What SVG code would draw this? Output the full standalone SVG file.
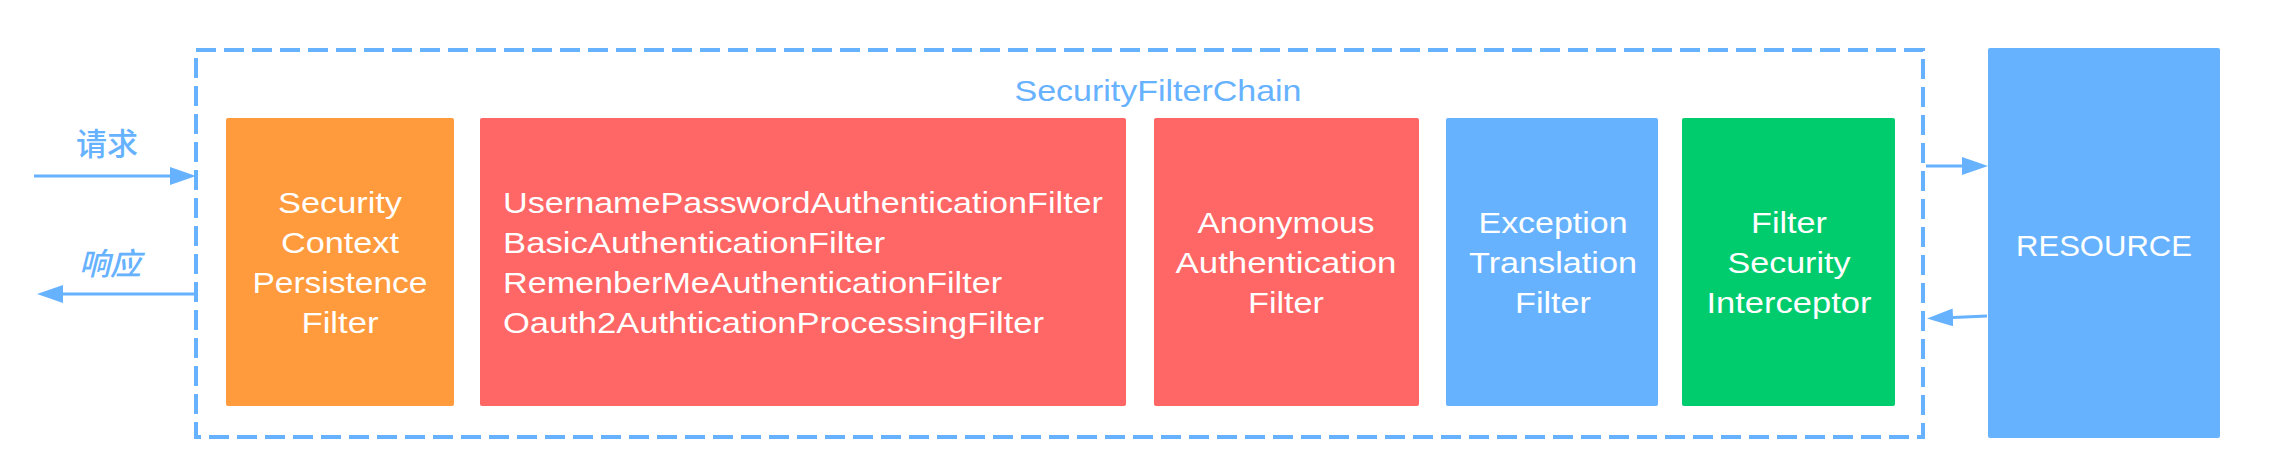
<svg xmlns="http://www.w3.org/2000/svg" width="2276" height="468" viewBox="0 0 2276 468">
<style>
.box{stroke:none}
.orange{fill:#FF9A3D}
.red{fill:#FF6666}
.blue{fill:#66B2FF}
.green{fill:#00CC6E}
.t{font-family:"Liberation Sans",Arial,sans-serif;font-size:30px;fill:#FFFFFF;text-anchor:middle}
.tl{font-family:"Liberation Sans",Arial,sans-serif;font-size:30px;fill:#FFFFFF;text-anchor:start}
.title{font-family:"Liberation Sans",Arial,sans-serif;font-size:30px;fill:#66B2FF;text-anchor:middle}
.cjk{font-family:"Liberation Sans","Noto Sans CJK SC",sans-serif;font-size:31px;fill:#66B2FF;text-anchor:middle;font-weight:500}
.conn{stroke:#66B2FF;stroke-width:3;fill:none}
.chain{stroke:#66B2FF;stroke-width:4;fill:none;stroke-dasharray:20 8}
</style>
<defs>
<marker id="ah" markerUnits="userSpaceOnUse" markerWidth="26" markerHeight="18" refX="0" refY="9" orient="auto" viewBox="0 0 26 18">
<path d="M0,0 L26,9 L0,18 z" fill="#66B2FF"/>
</marker>
</defs>
<g id="chain">
<rect class="chain" x="196" y="50" width="1727" height="387"/>
<text class="title" x="1158" y="101" textLength="287" lengthAdjust="spacingAndGlyphs">SecurityFilterChain</text>
</g>
<g id="scpf">
<rect class="box orange" x="226" y="118" width="228" height="288" rx="2"/>
<text class="t" x="340" y="213" textLength="124" lengthAdjust="spacingAndGlyphs">Security</text>
<text class="t" x="340" y="253" textLength="118" lengthAdjust="spacingAndGlyphs">Context</text>
<text class="t" x="340" y="293" textLength="175" lengthAdjust="spacingAndGlyphs">Persistence</text>
<text class="t" x="340" y="333" textLength="77" lengthAdjust="spacingAndGlyphs">Filter</text>
</g>
<g id="authfilters">
<rect class="box red" x="480" y="118" width="646" height="288" rx="2"/>
<text class="tl" x="503" y="213" textLength="600" lengthAdjust="spacingAndGlyphs">UsernamePasswordAuthenticationFilter</text>
<text class="tl" x="503" y="253" textLength="382" lengthAdjust="spacingAndGlyphs">BasicAuthenticationFilter</text>
<text class="tl" x="503" y="293" textLength="499" lengthAdjust="spacingAndGlyphs">RemenberMeAuthenticationFilter</text>
<text class="tl" x="503" y="333" textLength="541" lengthAdjust="spacingAndGlyphs">Oauth2AuthticationProcessingFilter</text>
</g>
<g id="anonymous">
<rect class="box red" x="1154" y="118" width="265" height="288" rx="2"/>
<text class="t" x="1286" y="233" textLength="177" lengthAdjust="spacingAndGlyphs">Anonymous</text>
<text class="t" x="1286" y="273" textLength="221" lengthAdjust="spacingAndGlyphs">Authentication</text>
<text class="t" x="1286" y="313" textLength="76" lengthAdjust="spacingAndGlyphs">Filter</text>
</g>
<g id="exception">
<rect class="box blue" x="1446" y="118" width="212" height="288" rx="2"/>
<text class="t" x="1553" y="233" textLength="149" lengthAdjust="spacingAndGlyphs">Exception</text>
<text class="t" x="1553" y="273" textLength="168" lengthAdjust="spacingAndGlyphs">Translation</text>
<text class="t" x="1553" y="313" textLength="76" lengthAdjust="spacingAndGlyphs">Filter</text>
</g>
<g id="fsi">
<rect class="box green" x="1682" y="118" width="213" height="288" rx="2"/>
<text class="t" x="1789" y="233" textLength="76" lengthAdjust="spacingAndGlyphs">Filter</text>
<text class="t" x="1789" y="273" textLength="123" lengthAdjust="spacingAndGlyphs">Security</text>
<text class="t" x="1789" y="313" textLength="165" lengthAdjust="spacingAndGlyphs">Interceptor</text>
</g>
<g id="resource">
<rect class="box blue" x="1988" y="48" width="232" height="390" rx="2"/>
<text class="t" x="2104" y="256" textLength="176" lengthAdjust="spacingAndGlyphs">RESOURCE</text>
</g>
<g id="connectors">
<line class="conn" x1="34" y1="176" x2="170" y2="176" marker-end="url(#ah)"/>
<text class="cjk" x="107" y="155">请求</text>
<line class="conn" x1="196" y1="294" x2="63" y2="294" marker-end="url(#ah)"/>
<text class="cjk" x="110" y="275" font-style="italic">响应</text>
<line class="conn" x1="1926" y1="166" x2="1962" y2="166" marker-end="url(#ah)"/>
<line class="conn" x1="1987" y1="316" x2="1953" y2="317.4" marker-end="url(#ah)"/>
</g>
</svg>
